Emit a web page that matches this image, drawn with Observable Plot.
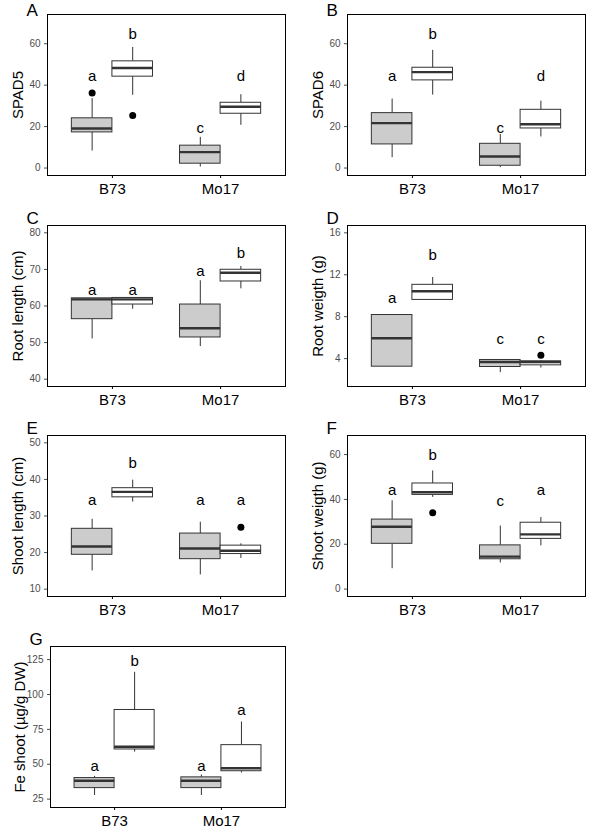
<!DOCTYPE html>
<html>
<head>
<meta charset="utf-8">
<script src="https://cdn.jsdelivr.net/npm/d3@7"></script>
<script src="https://cdn.jsdelivr.net/npm/@observablehq/plot@0.6"></script>
<style>
  body { margin: 0; background: white; }
  #chart { position: relative; width: 600px; height: 840px; background: white; }
  #chart svg { position: absolute; overflow: visible; }
</style>
</head>
<body>
<div id="chart"></div>
<script>
// Categories
const genotypes = ["B73", "Mo17"];
const boxFills = ["#cccccc", "#ffffff"]; // per treatment (grey, white)
// Box order: B73 grey, B73 white, Mo17 grey, Mo17 white
// Each box: [lower whisker, Q1, median, Q3, upper whisker]

// A – SPAD5
const spad5 = [[8.2, 17.2, 19.1, 24.0, 33.5], [35.1, 44.1, 48.3, 51.5, 58.2], [0.5, 2.1, 7.7, 10.8, 14.8], [20.6, 26.2, 29.6, 31.5, 35.4]];
const spad5Outliers = [[0, 36.2], [1, 25.4]];
const spad5Letters = ["a", "b", "c", "d"];
const spad5LetterY = [44.2, 64.5, 19.3, 44.2];

// B – SPAD6
const spad6 = [[5.0, 11.4, 21.7, 26.5, 33.3], [35.2, 42.3, 46.3, 48.4, 56.8], [0.2, 1.1, 5.6, 11.7, 16.2], [15.0, 19.1, 21.1, 28.1, 32.3]];
const spad6Outliers = [];
const spad6Letters = ["a", "b", "c", "d"];
const spad6LetterY = [44.2, 64.5, 19.3, 44.2];

// C – Root length
const rootLen = [[51.0, 56.4, 61.8, 62.1, 62.1], [59.1, 60.4, 61.8, 62.2, 62.2], [48.9, 51.4, 53.9, 60.4, 66.9], [64.7, 66.7, 69.1, 69.9, 70.8]];
const rootLenOutliers = [];
const rootLenLetters = ["a", "a", "a", "b"];
const rootLenLetterY = [64.3, 64.3, 69.4, 74.5];

// D – Root weight
const rootWt = [[3.23, 3.23, 5.95, 8.16, 8.16], [9.6, 9.6, 10.43, 11.04, 11.74], [2.66, 3.2, 3.68, 3.87, 3.87], [3.1, 3.36, 3.68, 3.74, 3.8]];
const rootWtOutliers = [[3, 4.32]];
const rootWtLetters = ["a", "b", "c", "c"];
const rootWtLetterY = [9.8, 13.9, 5.9, 5.9];

// E – Shoot length
const shootLen = [[15.0, 19.4, 21.65, 26.5, 29.1], [33.8, 35.1, 36.6, 37.6, 39.8], [13.9, 18.2, 21.1, 25.2, 28.3], [18.4, 19.6, 20.5, 21.9, 22.4]];
const shootLenOutliers = [[3, 26.9]];
const shootLenLetters = ["a", "b", "a", "a"];
const shootLenLetterY = [34.3, 44.5, 34.3, 34.3];

// F – Shoot weight
const shootWt = [[9.1, 20.2, 27.8, 31.0, 39.4], [40.9, 42.0, 43.2, 47.1, 52.7], [11.7, 13.3, 14.5, 19.5, 28.1], [19.3, 22.4, 24.4, 29.6, 31.9]];
const shootWtOutliers = [[1, 34.1]];
const shootWtLetters = ["a", "b", "c", "a"];
const shootWtLetterY = [44.1, 59.6, 39.4, 44.1];

// G – Fe shoot
const feShoot = [[27.6, 32.9, 38.2, 40.1, 41.3], [58.7, 60.6, 62.5, 88.9, 115.9], [27.6, 32.9, 38.2, 40.6, 42.3], [43.75, 45.0, 47.1, 63.7, 80.3]];
const feShootOutliers = [];
const feShootLetters = ["a", "b", "a", "a"];
const feShootLetterY = [48.6, 123.8, 48.6, 88.7];

const HALF = 0.1875;
const center = i => Math.floor(i / 2) + 1 + (i % 2 === 0 ? -HALF : HALF);

function panel(o) {
  const rows = o.stats.map((s, i) => ({
    i, lo: s[0], q1: s[1], med: s[2], q3: s[3], hi: s[4],
    c: center(i), letter: o.letters[i], ly: o.letterY[i]
  }));
  const grey = rows.filter(d => d.i % 2 === 0);
  const white = rows.filter(d => d.i % 2 === 1);
  const outs = o.outliers.map(d => ({x: center(d[0]), y: d[1]}));
  const stroke = "#333333";
  return Plot.plot({
    width: 300, height: 205,
    marginLeft: o.marginLeft, marginRight: 15, marginTop: 14, marginBottom: 30,
    style: {fontFamily: "'Liberation Sans', Arial, sans-serif", background: "transparent", overflow: "visible"},
    x: {domain: [0.4, 2.6], axis: null},
    y: {domain: o.domain, axis: null},
    marks: [
      Plot.ruleX(rows, {x: "c", y1: "q3", y2: "hi", stroke, strokeWidth: 1}),
      Plot.ruleX(rows, {x: "c", y1: "lo", y2: "q1", stroke, strokeWidth: 1}),
      Plot.rect(grey, {x1: d => d.c - HALF, x2: d => d.c + HALF, y1: "q1", y2: "q3", fill: boxFills[0], stroke, strokeWidth: 1}),
      Plot.rect(white, {x1: d => d.c - HALF, x2: d => d.c + HALF, y1: "q1", y2: "q3", fill: boxFills[1], stroke, strokeWidth: 1}),
      Plot.ruleY(rows, {x1: d => d.c - HALF, x2: d => d.c + HALF, y: "med", stroke, strokeWidth: 2.4}),
      Plot.dot(outs, {x: "x", y: "y", r: 3.5, fill: "black", stroke: "none"}),
      Plot.text(rows, {x: "c", y: "ly", text: "letter", fontSize: 15, fill: "black"}),
      Plot.frame({stroke: "black", strokeWidth: 1}),
      Plot.axisY({ticks: o.ticks, tickSize: 3, tickPadding: 4, fontSize: 10, color: "#4d4d4d", label: null}),
      Plot.axisX({ticks: [1, 2], tickFormat: d => genotypes[d - 1], tickSize: 3, tickPadding: 5, fontSize: 15, color: "black", label: null}),
      Plot.text([o.label], {frameAnchor: "left", dx: o.labelDx, rotate: -90, textAnchor: "middle", lineAnchor: "middle", fontSize: 15, fill: "black"}),
      Plot.text([o.panel], {frameAnchor: "top-left", dx: -21, dy: o.letterDy, textAnchor: "start", lineAnchor: "bottom", fontSize: 17, fill: "black"})
    ]
  });
}

const panels = [
  {panel: "A", label: "SPAD5", stats: spad5, outliers: spad5Outliers, letters: spad5Letters, letterY: spad5LetterY, domain: [-3.6, 74.1], ticks: [0, 20, 40, 60], left: 0, top: 0, marginLeft: 47, labelDx: -29, letterDy: 1},
  {panel: "B", label: "SPAD6", stats: spad6, outliers: spad6Outliers, letters: spad6Letters, letterY: spad6LetterY, domain: [-3.6, 74.1], ticks: [0, 20, 40, 60], left: 300, top: 0, marginLeft: 47, labelDx: -29, letterDy: 1},
  {panel: "C", label: "Root length (cm)", stats: rootLen, outliers: rootLenOutliers, letters: rootLenLetters, letterY: rootLenLetterY, domain: [38, 82], ticks: [40, 50, 60, 70, 80], left: 0, top: 211, marginLeft: 47, labelDx: -29, letterDy: -2},
  {panel: "D", label: "Root weigth (g)", stats: rootWt, outliers: rootWtOutliers, letters: rootWtLetters, letterY: rootWtLetterY, domain: [1.34, 16.7], ticks: [4, 8, 12, 16], left: 300, top: 211, marginLeft: 47, labelDx: -29, letterDy: -2},
  {panel: "E", label: "Shoot length (cm)", stats: shootLen, outliers: shootLenOutliers, letters: shootLenLetters, letterY: shootLenLetterY, domain: [8, 52], ticks: [10, 20, 30, 40, 50], left: 0, top: 421, marginLeft: 47, labelDx: -29, letterDy: -2},
  {panel: "F", label: "Shoot weigth (g)", stats: shootWt, outliers: shootWtOutliers, letters: shootWtLetters, letterY: shootWtLetterY, domain: [-3.3, 68.5], ticks: [0, 20, 40, 60], left: 300, top: 421, marginLeft: 47, labelDx: -29, letterDy: -2},
  {panel: "G", label: "Fe shoot (µg/g DW)", stats: feShoot, outliers: feShootOutliers, letters: feShootLetters, letterY: feShootLetterY, domain: [19, 134.4], ticks: [25, 50, 75, 100, 125], left: 0, top: 632, marginLeft: 50, labelDx: -30.5, letterDy: -2}
];

const chart = document.getElementById("chart");
for (const p of panels) {
  const svg = panel(p);
  svg.style.left = p.left + "px";
  svg.style.top = p.top + "px";
  chart.appendChild(svg);
}
</script>
</body>
</html>
